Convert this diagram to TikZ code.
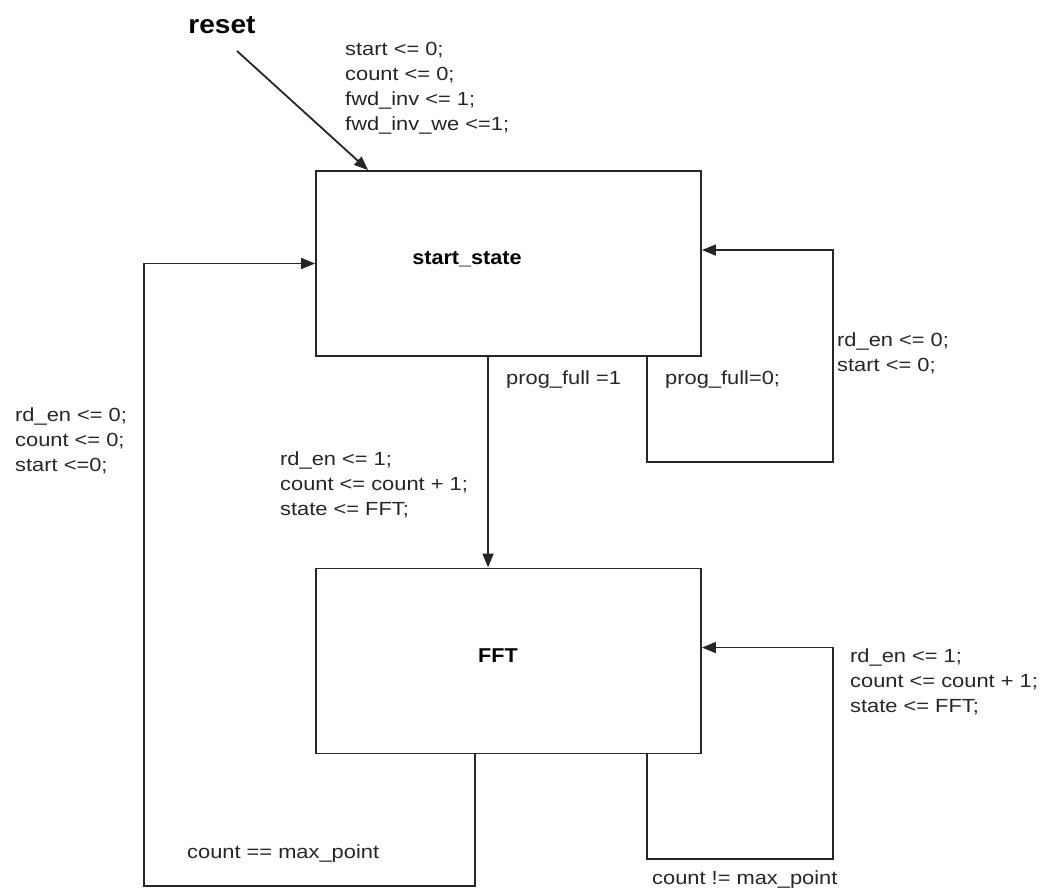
\documentclass[tikz,border=0pt]{standalone}
\usepackage{fontspec}
\newfontfamily\labfont{Liberation Sans}[FakeStretch=1.15]
\newfontfamily\titfont{Liberation Sans}[FakeStretch=1.08]
\usetikzlibrary{arrows.meta,calc}
\begin{document}
\begin{tikzpicture}[x=1pt,y=-1pt,
  statebox/.style={draw=black!85,line width=1.9pt,minimum width=385pt,minimum height=185pt,inner sep=0pt},
  lab/.style={inner sep=0pt,align=left,anchor=west,text=black!85,font=\labfont\fontsize{19}{25}\selectfont},
  tit/.style={inner sep=0pt,text=black,font=\titfont\bfseries\fontsize{20}{24}\selectfont},
  conn/.style={draw=black!85,line width=1.8pt},
  arr/.style={conn,-{Triangle[length=14pt,width=11pt]}}]
\useasboundingbox (0,0) rectangle (1043,893);
\fill[white] (0,0) rectangle (1043,893);
% states
\node[statebox] (ss) at (508.5,263.5) {};
\node[statebox] (fft) at (508.5,661) {};
\node[tit] (sstxt) at (467,259) {start\_state};
\node[tit] (ffttxt) at (498,656) {FFT};
% reset
\node[inner sep=0pt,font=\titfont\bfseries\fontsize{26}{30}\selectfont] (reset) at (222,25) {reset};
\coordinate (rst) at (237,51);
\draw[arr] (rst) -- ($(ss.north west)+(53,0)$);
% labels
\node[lab] (init) at (345,88) {start <= 0;\\count <= 0;\\fwd\_inv <= 1;\\fwd\_inv\_we <=1;};
\node[lab] (pf1) at (506,380) {prog\_full =1};
\node[lab] (pf0) at (665,380) {prog\_full=0;};
\node[lab] (act1) at (280,485) {rd\_en <= 1;\\count <= count + 1;\\state <= FFT;};
\node[lab] (act0) at (837,353) {rd\_en <= 0;\\start <= 0;};
\node[lab] (actl) at (15,441) {rd\_en <= 0;\\count <= 0;\\start <=0;};
\node[lab] (actf) at (850,682) {rd\_en <= 1;\\count <= count + 1;\\state <= FFT;};
\node[lab] (cmax) at (187,854) {count == max\_point};
\node[lab] (cnmax) at (652,880) {count != max\_point};
% connectors
\draw[arr] ($(ss.south west)+(173,0)$) -- ($(fft.north west)+(173,0)$);
\draw[arr] ($(ss.south west)+(332,0)$) |- (833,462) |- ($(ss.north east)+(0,80)$);
\draw[arr] ($(fft.south west)+(332,0)$) |- (833,859) |- ($(fft.north east)+(0,80)$);
\draw[arr] ($(fft.south west)+(160,0)$) |- (144,886) |- (ss.west);
\end{tikzpicture}
\end{document}
